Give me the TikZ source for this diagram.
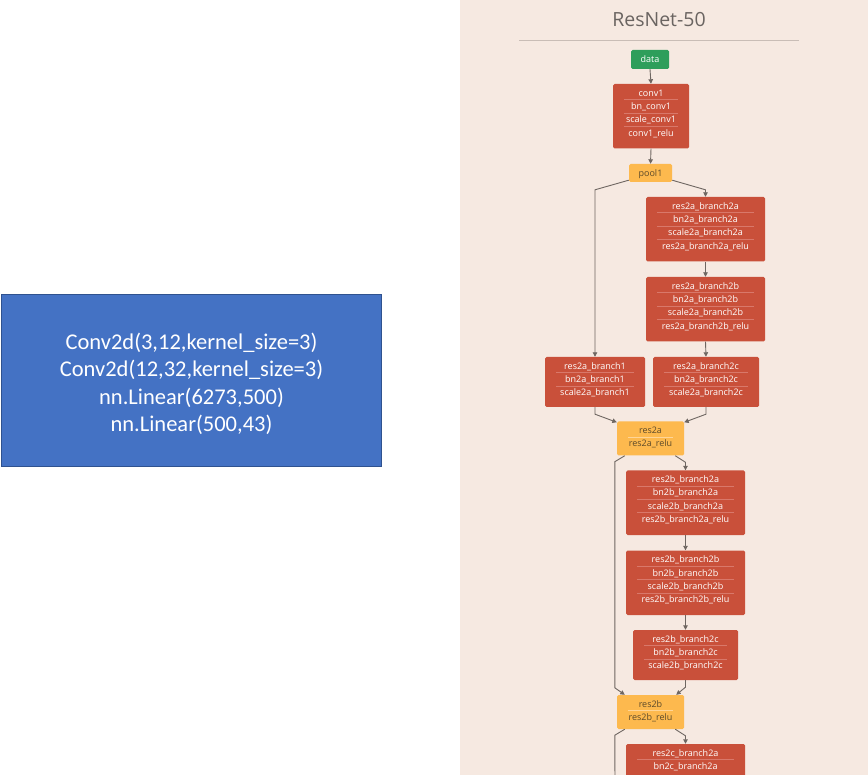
\documentclass[tikz,border=0pt]{standalone}
\usepackage{fontspec}
\setmainfont{Open Sans}
\newfontfamily\calfont{Carlito}
\usetikzlibrary{arrows.meta,calc}
\definecolor{bg}{HTML}{F6E9E1}
\definecolor{redb}{HTML}{C9503A}
\definecolor{redsep}{HTML}{D9786A}
\definecolor{orb}{HTML}{FDB94E}
\definecolor{orsep}{HTML}{FFD597}
\definecolor{grn}{HTML}{2E9E5B}
\definecolor{edgec}{HTML}{6E6661}
\definecolor{blueb}{HTML}{4472C4}
\definecolor{bluebd}{HTML}{2F528F}
\definecolor{ttl}{HTML}{6A6461}
\definecolor{ortxt}{HTML}{5C4A2A}
\definecolor{rulec}{HTML}{C9BDB6}
\tikzset{
  blk/.style={rounded corners=1.5pt, inner sep=0pt, draw=none},
  redblk/.style={blk, fill=redb},
  orblk/.style={blk, fill=orb},
  grnblk/.style={blk, fill=grn},
  redtxt/.style={font=\fontsize{9}{10}\selectfont, text=white, anchor=base, inner sep=0pt},
  grntxt/.style={redtxt},
  ortxt/.style={redtxt, text=ortxt},
  redsep/.style={draw=redsep, line width=0.5pt},
  orsep/.style={draw=orsep, line width=0.5pt},
  grnsep/.style={draw=grn},
  edgeline/.style={draw=edgec, line width=0.9pt},
  arr/.style={edgeline, -{Triangle[length=4.5pt,width=4.5pt]}},
}
% #1 name, #2 kind, #3 cx, #4 top, #5 width, #6 height, #7 rows
\newcommand\mkblock[7]{%
  \node[#2blk, minimum width=#5pt, minimum height=#6pt] (#1) at (#3,{#4+#6/2}) {};
  \foreach \t [count=\i] in {#7} {
    \node[#2txt] at (#3,{#4+9+13.3*(\i-1)+3.2}) {\t};
    \ifnum\i>1
      \draw[#2sep] ({#3-#5/2+11},{#4+9+13.3*(\i-1)-6.65}) -- ({#3+#5/2-11},{#4+9+13.3*(\i-1)-6.65});
    \fi
  }
}
\begin{document}
\begin{tikzpicture}[x=1pt,y=-1pt]
\useasboundingbox (0,0) rectangle (868,775);
\clip (0,0) rectangle (868,775);
\fill[white] (0,0) rectangle (868,775);
\fill[bg] (460,0) rectangle (868,775);

% left box
\node[draw=bluebd, fill=blueb, line width=1pt, minimum width=380pt, minimum height=172pt, inner sep=0pt] (lbox) at (191.5,381) {};
\node[text=white, font=\calfont\fontsize{22.5}{27.4}\selectfont, align=center] (ltext) at ($(lbox.center)+(0,3)$) {Conv2d(3,12,kernel\_size=3)\\Conv2d(12,32,kernel\_size=3)\\nn.Linear(6273,500)\\nn.Linear(500,43)};

% title
\node[font=\fontsize{19.5}{22}\selectfont, text=ttl] (title) at (659,20) {ResNet-50};
\draw[draw=rulec, line width=0.8pt] (519,40) -- (799,40);

% blocks
\mkblock{data}{grn}{650}{50}{38}{19}{data}
\mkblock{conv1}{red}{651}{84}{76}{64.5}{conv1,bn\_conv1,scale\_conv1,conv1\_relu}
\mkblock{pool1}{or}{650.5}{164}{43}{18}{pool1}
\mkblock{a2a}{red}{705.5}{197}{119}{64.5}{res2a\_branch2a,bn2a\_branch2a,scale2a\_branch2a,res2a\_branch2a\_relu}
\mkblock{a2b}{red}{705.5}{277}{119}{64.5}{res2a\_branch2b,bn2a\_branch2b,scale2a\_branch2b,res2a\_branch2b\_relu}
\mkblock{b1}{red}{595}{357}{100}{50}{res2a\_branch1,bn2a\_branch1,scale2a\_branch1}
\mkblock{a2c}{red}{706}{357}{106}{50}{res2a\_branch2c,bn2a\_branch2c,scale2a\_branch2c}
\mkblock{res2a}{or}{650.5}{421.5}{67}{34}{res2a,res2a\_relu}
\mkblock{b2a}{red}{685.5}{470.5}{119}{64.5}{res2b\_branch2a,bn2b\_branch2a,scale2b\_branch2a,res2b\_branch2a\_relu}
\mkblock{b2b}{red}{685.5}{550.5}{119}{64.5}{res2b\_branch2b,bn2b\_branch2b,scale2b\_branch2b,res2b\_branch2b\_relu}
\mkblock{b2c}{red}{685.5}{630}{105}{50}{res2b\_branch2c,bn2b\_branch2c,scale2b\_branch2c}
\mkblock{res2b}{or}{650.5}{695}{67}{34}{res2b,res2b\_relu}
\mkblock{c2a}{red}{685.5}{744}{119}{64.5}{res2c\_branch2a,bn2c\_branch2a}

% connectors
\draw[arr] (data.south) -- (conv1.north);
\draw[arr] (conv1.south) -- (pool1.north);
\draw[arr] ($(pool1.south west)+(0,-2)$) -- ($(b1.north)+(0,-167)$) -- (b1.north);
\draw[arr] ($(pool1.south east)+(0,-2)$) -- ($(a2a.north)+(0,-7)$) -- (a2a.north);
\draw[arr] (a2a.south) -- (a2b.north);
\draw[arr] (a2b.south) -- (a2c.north);
\draw[arr] (b1.south) -- ++(0,7) -- ($(res2a.north west)+(0,1)$);
\draw[arr] (a2c.south) -- ++(0,7) -- ($(res2a.north east)+(0,1)$);
\draw[arr] ($(res2a.south east)+(-9,0)$) -- ($(b2a.north)+(0,-8)$) -- (b2a.north);
\draw[arr] ($(res2a.south west)+(8,0)$) -- ($(res2a.south west)+(-2,6)$) -- ($(res2b.north west)+(-2,-7)$) -- ($(res2b.north west)+(8,0)$);
\draw[arr] (b2a.south) -- (b2b.north);
\draw[arr] (b2b.south) -- (b2c.north);
\draw[arr] (b2c.south) -- ++(0,7) -- ($(res2b.north east)+(-8,0)$);
\draw[arr] ($(res2b.south east)+(-9,0)$) -- ($(c2a.north)+(0,-8)$) -- (c2a.north);
\coordinate (cut) at (615,785);
\draw[edgeline] ($(res2b.south west)+(8,0)$) -- ($(res2b.south west)+(-2,6)$) -- (cut);
\end{tikzpicture}
\end{document}
